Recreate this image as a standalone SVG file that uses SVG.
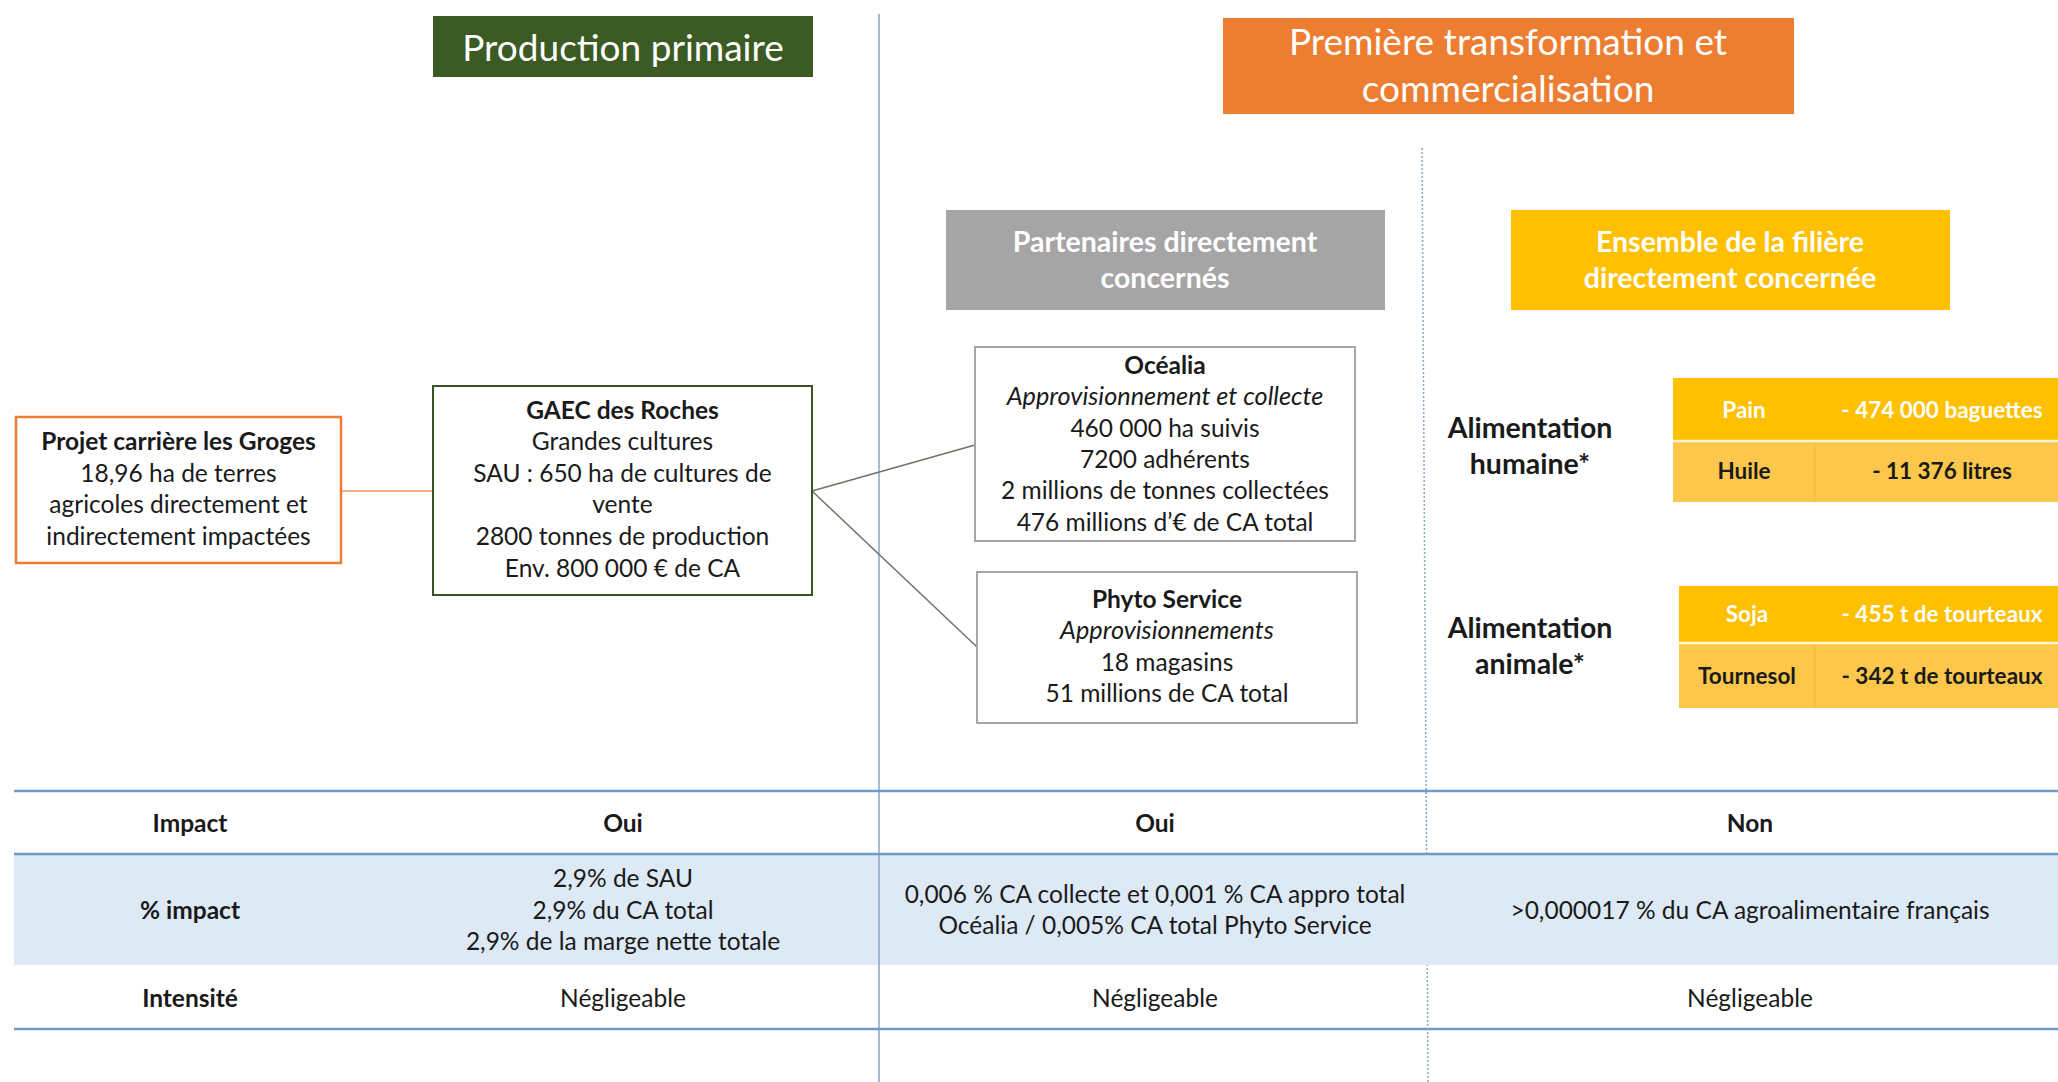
<svg xmlns="http://www.w3.org/2000/svg" width="2058" height="1082" viewBox="0 0 2058 1082">
  <style>
    text { font-family: Lato, "Liberation Sans", sans-serif; text-anchor: middle; fill: #1a1a1a; }
    .body { font-size: 24.5px; }
    .b { font-weight: bold; }
    .it { font-style: italic; font-size: 25.3px; }
    .head { font-size: 37px; fill: #ffffff; }
    .sub { font-size: 28.5px; font-weight: bold; fill: #ffffff; }
    .alim { font-size: 28.5px; font-weight: bold; }
    .cell { font-size: 22.5px; font-weight: bold; }
    .light { fill: #ffffff; }
    .sep { stroke: #8ca5c4; stroke-width: 1.5; fill: none; }
    .rule { stroke: #6f9bc8; stroke-width: 2.5; }
    .link { stroke: #6e7566; stroke-width: 1.5; fill: none; }
  </style>

  <rect width="2058" height="1082" fill="#ffffff"/>

  <!-- column separators -->
  <g id="separators">
    <line class="sep" x1="879" y1="14" x2="879" y2="1082"/>
    <line class="sep" x1="1422" y1="148" x2="1428" y2="1082" stroke-dasharray="2 2"/>
  </g>

  <!-- section headers -->
  <g id="hdr-production">
    <rect x="433" y="16" width="380" height="61" fill="#3c5a23"/>
    <text class="head" x="623" y="61">Production primaire</text>
  </g>
  <g id="hdr-transformation">
    <rect x="1223" y="18" width="571" height="96" fill="#ed7d31"/>
    <text class="head" x="1508" y="55">Première transformation et</text>
    <text class="head" x="1508" y="102">commercialisation</text>
  </g>
  <g id="hdr-partenaires">
    <rect x="946" y="210" width="439" height="100" fill="#a5a5a5"/>
    <text class="sub" x="1165" y="252">Partenaires directement</text>
    <text class="sub" x="1165" y="288">concernés</text>
  </g>
  <g id="hdr-filiere">
    <rect x="1511" y="210" width="439" height="100" fill="#ffc000"/>
    <text class="sub" x="1730" y="252">Ensemble de la filière</text>
    <text class="sub" x="1730" y="288">directement concernée</text>
  </g>

  <!-- connectors -->
  <g id="connectors">
    <line x1="341" y1="491" x2="433" y2="491" stroke="#f4b183" stroke-width="2"/>
    <line class="link" x1="812" y1="491" x2="975" y2="445"/>
    <line class="link" x1="812" y1="491" x2="977" y2="647"/>
  </g>

  <!-- nodes -->
  <g id="projet">
    <rect x="16" y="417" width="325" height="146" fill="#ffffff" stroke="#ed7d31" stroke-width="2.5"/>
    <text class="body b" x="178.5" y="450">Projet carrière les Groges</text>
    <text class="body" x="178.5" y="482">18,96 ha de terres</text>
    <text class="body" x="178.5" y="513">agricoles directement et</text>
    <text class="body" x="178.5" y="545">indirectement impactées</text>
  </g>
  <g id="gaec">
    <rect x="433" y="386" width="379" height="209" fill="#ffffff" stroke="#3b5323" stroke-width="2"/>
    <text class="body b" x="622.5" y="419">GAEC des Roches</text>
    <text class="body" x="622.5" y="450">Grandes cultures</text>
    <text class="body" x="622.5" y="482">SAU : 650 ha de cultures de</text>
    <text class="body" x="622.5" y="513">vente</text>
    <text class="body" x="622.5" y="545">2800 tonnes de production</text>
    <text class="body" x="622.5" y="577">Env. 800 000 € de CA</text>
  </g>
  <g id="ocealia">
    <rect x="975" y="347" width="380" height="194" fill="#ffffff" stroke="#a6a6a6" stroke-width="2"/>
    <text class="body b" x="1165" y="374">Océalia</text>
    <text class="body it" x="1165" y="405">Approvisionnement et collecte</text>
    <text class="body" x="1165" y="437">460 000 ha suivis</text>
    <text class="body" x="1165" y="468">7200 adhérents</text>
    <text class="body" x="1165" y="499">2 millions de tonnes collectées</text>
    <text class="body" x="1165" y="531">476 millions d’€ de CA total</text>
  </g>
  <g id="phyto">
    <rect x="977" y="572" width="380" height="151" fill="#ffffff" stroke="#a6a6a6" stroke-width="2"/>
    <text class="body b" x="1167" y="608">Phyto Service</text>
    <text class="body it" x="1167" y="639">Approvisionnements</text>
    <text class="body" x="1167" y="671">18 magasins</text>
    <text class="body" x="1167" y="702">51 millions de CA total</text>
  </g>

  <!-- food chain figures -->
  <g id="alim-humaine">
    <text class="alim" x="1530" y="438">Alimentation</text>
    <text class="alim" x="1530" y="474">humaine*</text>
    <rect x="1673" y="378" width="385" height="63" fill="#ffc000"/>
    <rect x="1673" y="442" width="385" height="60" fill="#fdc74b"/>
    <line x1="1673" y1="441" x2="2058" y2="441" stroke="#fff4d6" stroke-width="2.5"/>
    <line x1="1815" y1="443" x2="1815" y2="502" stroke="#f0b93c" stroke-width="1"/>
    <text class="cell light" x="1744" y="418">Pain</text>
    <text class="cell light" x="1942" y="418">- 474 000 baguettes</text>
    <text class="cell" x="1744" y="479">Huile</text>
    <text class="cell" x="1942" y="479">- 11 376 litres</text>
  </g>
  <g id="alim-animale">
    <text class="alim" x="1530" y="638">Alimentation</text>
    <text class="alim" x="1530" y="674">animale*</text>
    <rect x="1679" y="586" width="379" height="57" fill="#ffc000"/>
    <rect x="1679" y="644" width="379" height="64" fill="#fdc74b"/>
    <line x1="1679" y1="643" x2="2058" y2="643" stroke="#fff4d6" stroke-width="2.5"/>
    <line x1="1815" y1="645" x2="1815" y2="708" stroke="#f0b93c" stroke-width="1"/>
    <text class="cell light" x="1747" y="622">Soja</text>
    <text class="cell light" x="1942" y="622">- 455 t de tourteaux</text>
    <text class="cell" x="1747" y="684">Tournesol</text>
    <text class="cell" x="1942" y="684">- 342 t de tourteaux</text>
  </g>

  <!-- impact table -->
  <g id="impact-table">
    <rect x="14" y="855" width="2044" height="110" fill="#dde9f5"/>
    <line class="sep" x1="879" y1="855" x2="879" y2="965"/>
    <line class="rule" x1="14" y1="791" x2="2058" y2="791"/>
    <line class="rule" x1="14" y1="854" x2="2058" y2="854"/>
    <line class="rule" x1="14" y1="1029" x2="2058" y2="1029"/>

    <text class="body b" x="190" y="832">Impact</text>
    <text class="body b" x="623" y="832">Oui</text>
    <text class="body b" x="1155" y="832">Oui</text>
    <text class="body b" x="1750" y="832">Non</text>

    <text class="body b" x="190" y="919">% impact</text>
    <text class="body" x="623" y="887">2,9% de SAU</text>
    <text class="body" x="623" y="919">2,9% du CA total</text>
    <text class="body" x="623" y="950">2,9% de la marge nette totale</text>
    <text class="body" x="1155" y="903" font-size="24px">0,006 % CA collecte et 0,001 % CA appro total</text>
    <text class="body" x="1155" y="934" font-size="24px">Océalia / 0,005% CA total Phyto Service</text>
    <text class="body" x="1750" y="919" font-size="24px">&gt;0,000017 % du CA agroalimentaire français</text>

    <text class="body b" x="190" y="1007">Intensité</text>
    <text class="body" x="623" y="1007">Négligeable</text>
    <text class="body" x="1155" y="1007">Négligeable</text>
    <text class="body" x="1750" y="1007">Négligeable</text>
  </g>
</svg>
